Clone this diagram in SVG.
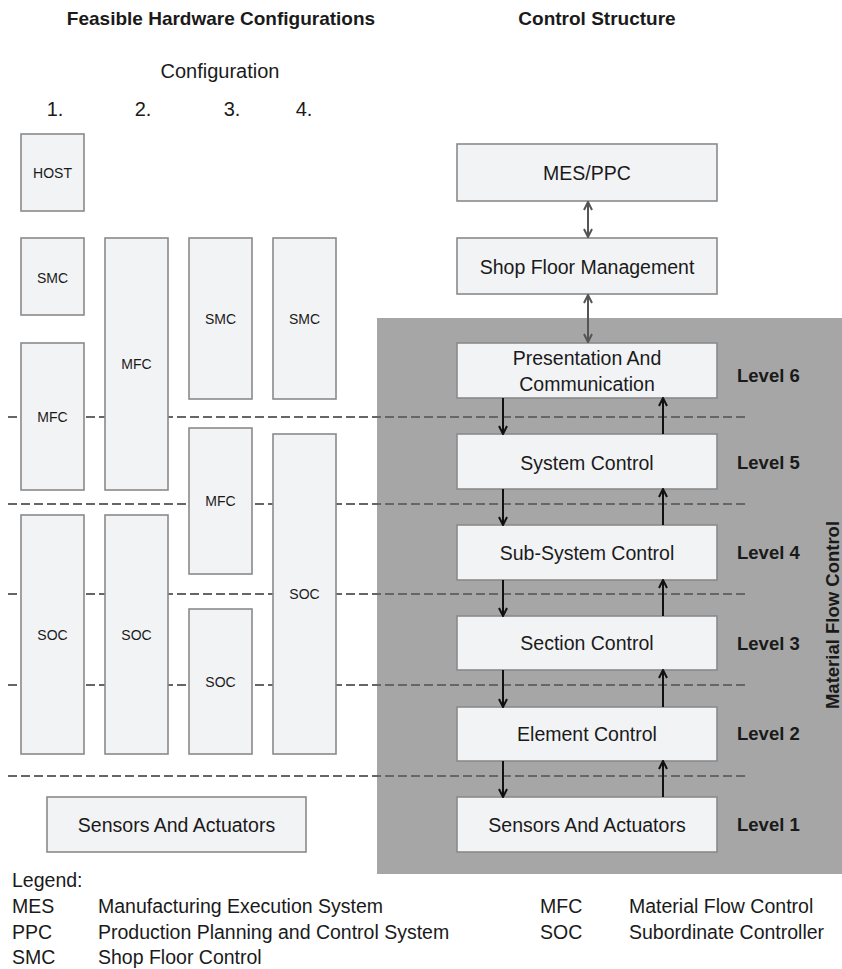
<svg xmlns="http://www.w3.org/2000/svg" width="842" height="969" viewBox="0 0 842 969">
<defs>
<style>
text{font-family:"Liberation Sans",Arial,sans-serif;fill:#1a1a1a}
.h{font-size:19px;font-weight:bold;text-anchor:middle}
.t{font-size:20px}
.c{text-anchor:middle}
.s{font-size:14px;text-anchor:middle}
.b{font-size:19.5px;text-anchor:middle}
.lv{font-size:18.5px;font-weight:bold}
.lg{font-size:19.5px}
.box{fill:#f2f3f5;stroke:#8a8a8a;stroke-width:1.6}
.dash{stroke:#666;stroke-width:2;stroke-dasharray:9 4;fill:none}
.arr{stroke:#111;stroke-width:2;fill:none;marker-end:url(#ah)}
.darr{stroke:#555;stroke-width:2;fill:none;marker-end:url(#ahg);marker-start:url(#ahg)}
</style>
<marker id="ah" viewBox="0 0 10 10" refX="9" refY="5" markerWidth="10" markerHeight="10" markerUnits="userSpaceOnUse" orient="auto">
<path d="M1,1 L9,5 L1,9" fill="none" stroke="#111" stroke-width="2"/>
</marker>
<marker id="ahg" viewBox="0 0 10 10" refX="9" refY="5" markerWidth="10" markerHeight="10" markerUnits="userSpaceOnUse" orient="auto-start-reverse">
<path d="M1,1 L9,5 L1,9" fill="none" stroke="#555" stroke-width="2"/>
</marker>
</defs>
<rect width="842" height="969" fill="#fff"/>
<rect id="mfc-region" x="377" y="318" width="465" height="556" fill="#a6a6a6"/>

<g id="headers">
<text class="h" x="221" y="25">Feasible Hardware Configurations</text>
<text class="h" x="597" y="25">Control Structure</text>
<text class="t c" x="220" y="78">Configuration</text>
<text class="t c" x="55" y="116">1.</text>
<text class="t c" x="143" y="116">2.</text>
<text class="t c" x="232" y="116">3.</text>
<text class="t c" x="304" y="116">4.</text>
</g>

<g id="dashed-lines">
<line class="dash" x1="8" y1="417" x2="748" y2="417"/>
<line class="dash" x1="8" y1="504" x2="748" y2="504"/>
<line class="dash" x1="8" y1="594" x2="748" y2="594"/>
<line class="dash" x1="8" y1="685" x2="748" y2="685"/>
<line class="dash" x1="8" y1="776" x2="748" y2="776"/>
</g>

<g id="c1-host"><rect class="box" x="21" y="134" width="63" height="77"/><text class="s" x="52.5" y="178">HOST</text></g>
<g id="c1-smc"><rect class="box" x="21" y="238" width="63" height="77"/><text class="s" x="52.5" y="283">SMC</text></g>
<g id="c1-mfc"><rect class="box" x="21" y="343" width="63" height="147"/><text class="s" x="52.5" y="422">MFC</text></g>
<g id="c1-soc"><rect class="box" x="21" y="515" width="63" height="239"/><text class="s" x="52.5" y="640">SOC</text></g>

<g id="c2-mfc"><rect class="box" x="105" y="238" width="63" height="252"/><text class="s" x="136.5" y="369">MFC</text></g>
<g id="c2-soc"><rect class="box" x="105" y="515" width="63" height="239"/><text class="s" x="136.5" y="640">SOC</text></g>

<g id="c3-smc"><rect class="box" x="189" y="238" width="63" height="161"/><text class="s" x="220.5" y="324">SMC</text></g>
<g id="c3-mfc"><rect class="box" x="189" y="428" width="63" height="146"/><text class="s" x="220.5" y="506">MFC</text></g>
<g id="c3-soc"><rect class="box" x="189" y="609" width="63" height="145"/><text class="s" x="220.5" y="687">SOC</text></g>

<g id="c4-smc"><rect class="box" x="273" y="238" width="63" height="161"/><text class="s" x="304.5" y="324">SMC</text></g>
<g id="c4-soc"><rect class="box" x="273" y="434" width="63" height="320"/><text class="s" x="304.5" y="599">SOC</text></g>

<g id="hw-sensors"><rect class="box" x="47" y="797" width="259" height="55"/><text class="b" x="176.5" y="832">Sensors And Actuators</text></g>

<g id="mes-ppc"><rect class="box" x="457" y="144" width="260" height="57"/><text class="b" x="587" y="180">MES/PPC</text></g>
<g id="shop-floor-management"><rect class="box" x="457" y="238" width="260" height="56"/><text class="b" x="587" y="274">Shop Floor Management</text></g>
<g id="presentation"><rect class="box" x="457" y="343" width="260" height="55"/><text class="b" x="587" y="365">Presentation And</text><text class="b" x="587" y="391">Communication</text></g>
<g id="system-control"><rect class="box" x="457" y="434" width="260" height="55"/><text class="b" x="587" y="470">System Control</text></g>
<g id="sub-system-control"><rect class="box" x="457" y="525" width="260" height="55"/><text class="b" x="587" y="560">Sub-System Control</text></g>
<g id="section-control"><rect class="box" x="457" y="616" width="260" height="54"/><text class="b" x="587" y="650">Section Control</text></g>
<g id="element-control"><rect class="box" x="457" y="707" width="260" height="54"/><text class="b" x="587" y="741">Element Control</text></g>
<g id="sensors-actuators"><rect class="box" x="457" y="797" width="260" height="55"/><text class="b" x="587" y="832">Sensors And Actuators</text></g>

<g id="levels">
<text class="lv" x="737" y="382">Level 6</text>
<text class="lv" x="737" y="469">Level 5</text>
<text class="lv" x="737" y="559">Level 4</text>
<text class="lv" x="737" y="650">Level 3</text>
<text class="lv" x="737" y="740">Level 2</text>
<text class="lv" x="737" y="831">Level 1</text>
<text class="lv" x="839" y="615" text-anchor="middle" font-size="19.5" transform="rotate(-90 839 615)">Material Flow Control</text>
</g>

<g id="connectors">
<line class="darr" x1="588" y1="202" x2="588" y2="237"/>
<line class="darr" x1="588" y1="295" x2="588" y2="342"/>
<line class="arr" x1="503" y1="398" x2="503" y2="434"/>
<line class="arr" x1="663" y1="434" x2="663" y2="398"/>
<line class="arr" x1="503" y1="489" x2="503" y2="525"/>
<line class="arr" x1="663" y1="525" x2="663" y2="489"/>
<line class="arr" x1="503" y1="580" x2="503" y2="616"/>
<line class="arr" x1="663" y1="616" x2="663" y2="580"/>
<line class="arr" x1="503" y1="670" x2="503" y2="707"/>
<line class="arr" x1="663" y1="707" x2="663" y2="670"/>
<line class="arr" x1="503" y1="761" x2="503" y2="797"/>
<line class="arr" x1="663" y1="797" x2="663" y2="761"/>
</g>

<g id="legend">
<text class="lg" x="12" y="887">Legend:</text>
<text class="lg" x="12" y="913">MES</text>
<text class="lg" x="98" y="913">Manufacturing Execution System</text>
<text class="lg" x="12" y="939">PPC</text>
<text class="lg" x="98" y="939">Production Planning and Control System</text>
<text class="lg" x="12" y="964">SMC</text>
<text class="lg" x="98" y="964">Shop Floor Control</text>
<text class="lg" x="540" y="913">MFC</text>
<text class="lg" x="629" y="913">Material Flow Control</text>
<text class="lg" x="540" y="939">SOC</text>
<text class="lg" x="629" y="939">Subordinate Controller</text>
</g>
</svg>
